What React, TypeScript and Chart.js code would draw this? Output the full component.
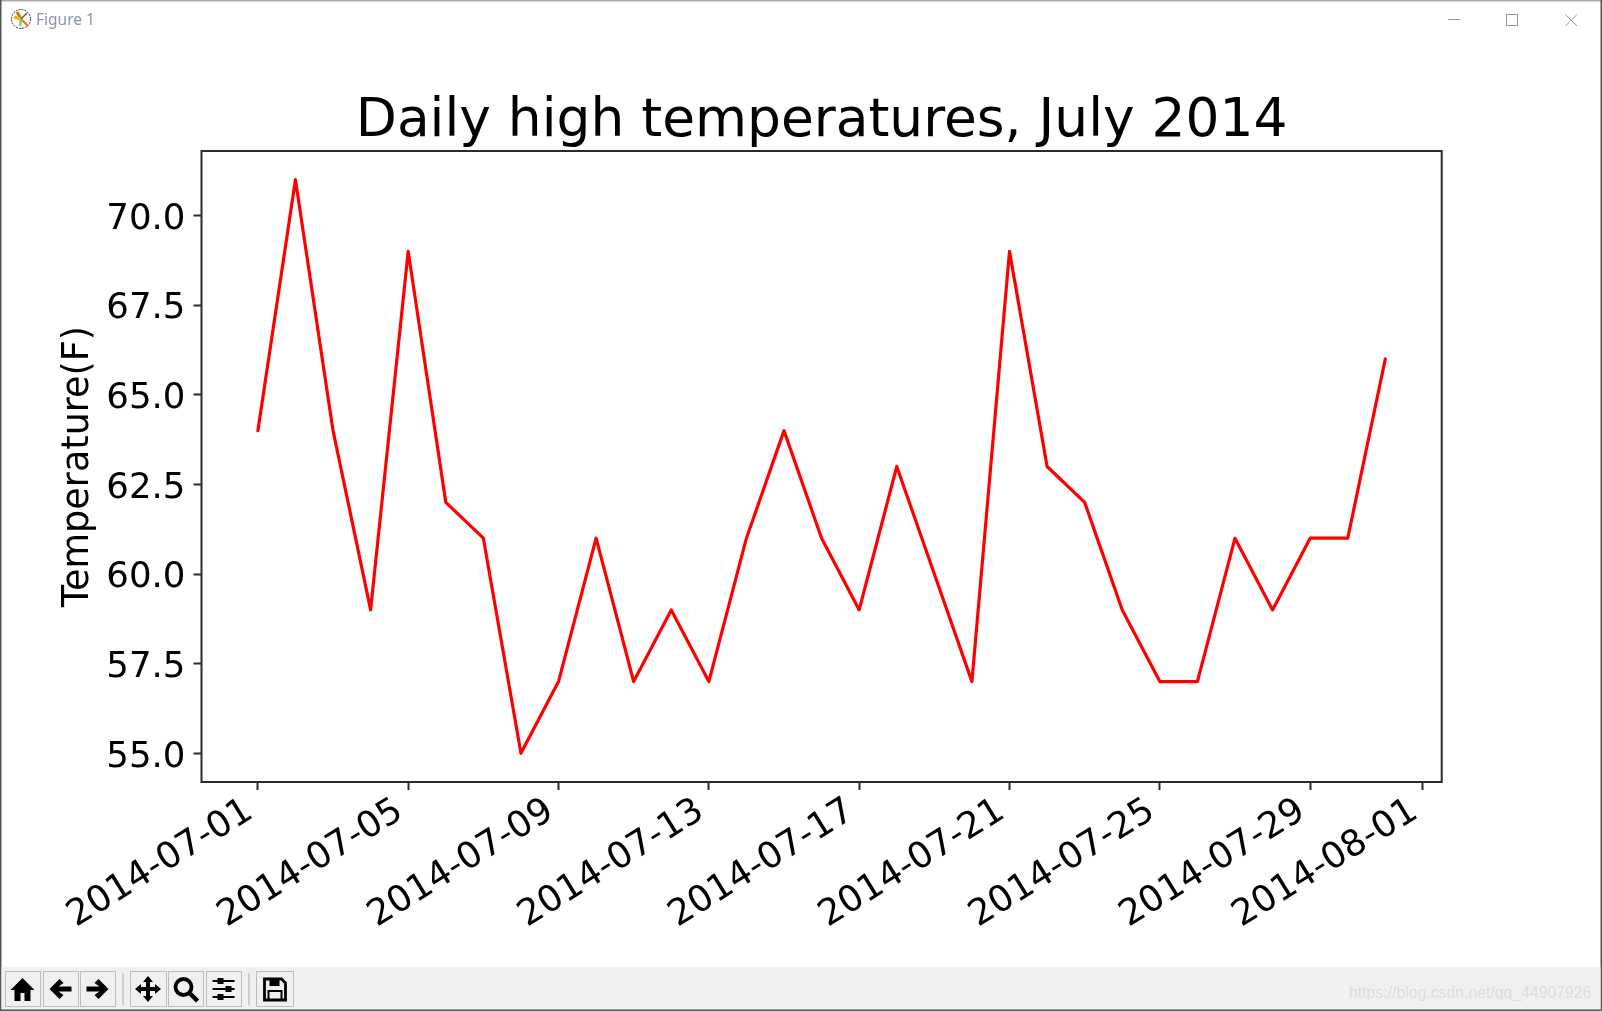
import React, { useEffect, useRef } from "react";
import { Chart, registerables } from "chart.js";

Chart.register(...registerables);

const dayLabels = [
  "2014-07-01","2014-07-02","2014-07-03","2014-07-04","2014-07-05","2014-07-06","2014-07-07","2014-07-08",
  "2014-07-09","2014-07-10","2014-07-11","2014-07-12","2014-07-13","2014-07-14","2014-07-15","2014-07-16",
  "2014-07-17","2014-07-18","2014-07-19","2014-07-20","2014-07-21","2014-07-22","2014-07-23","2014-07-24",
  "2014-07-25","2014-07-26","2014-07-27","2014-07-28","2014-07-29","2014-07-30","2014-07-31","2014-08-01",
];
const highs = [64,71,64,59,69,62,61,55,57,61,57,59,57,61,64,61,59,63,60,57,69,63,62,59,57,57,61,59,61,61,66];
const xTickDays = [0,4,8,12,16,20,24,28,31];
const yTickValues = [55,57.5,60,62.5,65,67.5,70];
const titleText = "Daily high temperatures, July 2014";
const yAxisTitle = "Temperature(F)";

const FONT = "'DejaVu Sans'";
const INK = "#000";
const SPINE = "#2b2b2b";

const framePlugin = {
  id: "frame",
  afterDatasetsDraw(chart: any) {
    const { ctx, chartArea: a } = chart;
    ctx.save();
    ctx.strokeStyle = SPINE;
    ctx.lineWidth = 2;
    ctx.strokeRect(a.left, a.top, a.right - a.left, a.bottom - a.top);
    ctx.restore();
  },
};

const Btn = ({ x, w, children }: any) => (
  <g transform={`translate(${x},971)`}>
    <rect x="0.5" y="0.5" width={w} height="35" fill="#f0f0f0" stroke="#bdbdbd" />
    <g transform={`translate(${w / 2 - 12},6)`}>{children}</g>
  </g>
);

const Chrome = () => (
  <svg width="1602" height="1011" style={{ position: "absolute", left: 0, top: 0, pointerEvents: "none" }}>
    <rect x="0" y="0" width="1602" height="1.5" fill="#aaa" />
    <rect x="0" y="0" width="1.5" height="1011" fill="#555" />
    <rect x="1600.5" y="0" width="1.5" height="1011" fill="#555" />
    <g transform="translate(21,19)">
      <circle r="9.5" fill="#fff" stroke="#333" strokeWidth="1" strokeDasharray="2 1" />
      <path d="M0 0L-4 -7" stroke="#e8681c" strokeWidth="3" />
      <path d="M0 0L-7 -2" stroke="#e8b21c" strokeWidth="3" />
      <path d="M0 0L7 7" stroke="#e8681c" strokeWidth="2" />
      <path d="M0 0L-1 7" stroke="#8ccf5a" strokeWidth="2.5" />
      <path d="M0 0L6 -6" stroke="#555" strokeWidth="1.5" />
    </g>
    <text x="36" y="25" fontFamily="'Noto Sans'" fontSize="15.5" fill="#8a96a8">Figure 1</text>
    <rect x="1448" y="19" width="12" height="1" fill="#999" />
    <rect x="1506.5" y="14.5" width="11" height="11" fill="none" stroke="#999" />
    <path d="M1565.5 14.5L1577 26M1577 14.5L1565.5 26" stroke="#999" />
    <rect x="1.5" y="967" width="1599" height="44" fill="#f0f0f0" />
    <rect x="0" y="1009.5" width="1602" height="1.5" fill="#555" />
    <Btn x={5} w={35}>
      <path d="M12 1L0 13H4V24H10V16H14V24H20V13H24Z" fill="#000" />
    </Btn>
    <Btn x={43} w={35}>
      <path d="M1 12L11 2L15 6L10 9.5H23V14.5H10L15 18L11 22Z" fill="#000" />
    </Btn>
    <Btn x={80} w={35}>
      <path d="M23 12L13 2L9 6L14 9.5H1V14.5H14L9 18L13 22Z" fill="#000" />
    </Btn>
    <rect x="122" y="973" width="2" height="32" fill="#cfcfcf" />
    <Btn x={130} w={36}>
      <path d="M12 -1L17 5H14V10H19V7L25 12L19 17V14H14V19H17L12 25L7 19H10V14H5V17L-1 12L5 7V10H10V5H7Z" fill="#000" />
    </Btn>
    <Btn x={168} w={35}>
      <circle cx="10" cy="10" r="8" fill="none" stroke="#000" strokeWidth="3.8" />
      <path d="M16 16L24 24" stroke="#000" strokeWidth="4.5" />
    </Btn>
    <Btn x={206} w={35}>
      <path d="M1 4H23M1 12H23M1 20H23" stroke="#000" strokeWidth="2.2" />
      <rect x="6" y="1" width="6" height="6" fill="#000" /><rect x="14" y="9" width="6" height="6" fill="#000" /><rect x="6" y="17" width="6" height="6" fill="#000" />
    </Btn>
    <rect x="248" y="973" width="2" height="32" fill="#cfcfcf" />
    <Btn x={256} w={37}>
      <path d="M2 2H19L23 6V23H2Z" fill="none" stroke="#000" strokeWidth="2.8" />
      <rect x="7" y="2" width="10" height="7" fill="#000" />
      <rect x="6" y="14" width="13" height="9" fill="none" stroke="#000" strokeWidth="2" />
    </Btn>
    <text x="1349" y="998" fontFamily="'Liberation Sans'" fontSize="15.8" fill="#dcdcdc">https://blog.csdn.net/qq_44907926</text>
  </svg>
);

export default function App() {
  const ref = useRef<HTMLCanvasElement>(null);
  useEffect(() => {
    const axisGrid = { display: true, drawOnChartArea: false, drawTicks: true, tickLength: 8, tickColor: SPINE, tickWidth: 2 };
    const chart = new Chart(ref.current!, {
      type: "line",
      data: {
        datasets: [{
          data: highs.map((y, x) => ({ x, y })),
          borderColor: "#ff0000",
          borderWidth: 3.2,
          borderJoinStyle: "round",
          borderCapStyle: "round",
          pointRadius: 0,
          tension: 0,
          fill: false,
          clip: false,
        }],
      },
      plugins: [framePlugin],
      options: {
        responsive: false,
        animation: false,
        layout: { padding: { left: 57, right: 160.3, top: 0, bottom: 0 } },
        plugins: {
          legend: { display: false },
          tooltip: { enabled: false },
          title: {
            display: true,
            text: titleText,
            color: INK,
            fullSize: false,
            font: { family: FONT, size: 53.4, weight: "normal", lineHeight: 1.0 },
            padding: { top: 95.6, bottom: 2 },
          },
        },
        scales: {
          x: {
            type: "linear",
            min: -1.5,
            max: 31.5,
            grid: axisGrid,
            border: { display: false },
            afterBuildTicks(s: any) { s.ticks = xTickDays.map((value) => ({ value })); },
            afterFit(s: any) { s.height = 229; s.paddingLeft = 0; s.paddingRight = 0; },
            ticks: {
              autoSkip: false,
              maxRotation: 31.8,
              minRotation: 31.8,
              color: INK,
              padding: 0,
              labelOffset: -8,
              font: { family: FONT, size: 36.2 },
              callback: (v: any) => dayLabels[Number(v)],
            },
          },
          y: {
            type: "linear",
            min: 54.2,
            max: 71.8,
            grid: axisGrid,
            border: { display: false },
            afterBuildTicks(s: any) { s.ticks = yTickValues.map((value) => ({ value })); },
            afterFit(s: any) { s.width = 144.5; s.paddingTop = 0; s.paddingBottom = 0; },
            title: {
              display: true,
              text: yAxisTitle,
              color: INK,
              font: { family: FONT, size: 36.6 },
              padding: 0,
            },
            ticks: {
              color: INK,
              padding: 8,
              labelOffset: 4,
              font: { family: FONT, size: 35.6 },
              callback: (v: any) => Number(v).toFixed(1),
            },
          },
        },
      },
    } as any);
    return () => chart.destroy();
  }, []);
  return (
    <div style={{ position: "absolute", left: 0, top: 0, width: 1602, height: 1011, background: "#fff", overflow: "hidden" }}>
      <canvas ref={ref} width={1602} height={1011} style={{ position: "absolute", left: 0, top: 0 }} />
      <Chrome />
    </div>
  );
}
